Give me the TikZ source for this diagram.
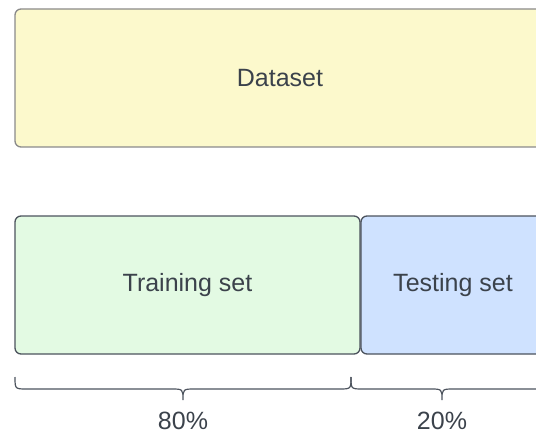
\documentclass[tikz,border=0pt]{standalone}
\usepackage{fontspec}
\setmainfont{Liberation Sans}
\definecolor{inkgray}{HTML}{3B424B}
\definecolor{dataline}{HTML}{8A8A8A}
\definecolor{datafill}{HTML}{FCF9CC}
\definecolor{boxline}{HTML}{4C535D}
\definecolor{trainfill}{HTML}{E3FAE3}
\definecolor{testfill}{HTML}{CFE2FF}
\tikzset{
  setbox/.style={draw, rounded corners=6pt, line width=1.3pt, inner sep=0pt,
    text=inkgray, font=\fontsize{25}{30}\selectfont},
  bracepath/.style={draw=boxline, line width=1.2pt},
  pct/.style={text=inkgray, inner sep=0pt, font=\fontsize{25}{30}\selectfont}
}
\begin{document}
\begin{tikzpicture}[x=1pt,y=1pt]
  \useasboundingbox (0,0) rectangle (536,432);
  \clip (0,0) rectangle (536,432);

  % full dataset
  \node[setbox, draw=dataline, fill=datafill, minimum width=530pt, minimum height=138pt]
    (data) at (280,354) {Dataset};

  % split into training and testing parts
  \node[setbox, draw=boxline, fill=trainfill, minimum width=345pt, minimum height=138pt]
    (train) at (187.5,147) {Training set};
  \node[setbox, draw=boxline, fill=testfill, minimum width=184pt, minimum height=138pt]
    (test) at (453,147) {Testing set};

  % braces under the parts
  \coordinate (b0) at (15,55);
  \coordinate (b1) at (351,55);
  \coordinate (b2) at (545,55);
  \path[bracepath] (b0) .. controls (15,43) .. (27,43) -- (171,43)
    .. controls (183,43) .. (183,32) .. controls (183,43) .. (195,43) -- (339,43)
    .. controls (351,43) .. (b1);
  \path[bracepath] (b1) .. controls (351,43) .. (363,43) -- (430,43)
    .. controls (442,43) .. (442,32) .. controls (442,43) .. (454,43) -- (533,43)
    .. controls (545,43) .. (b2);

  \node[pct, anchor=base] (p80) at (183,3) {80\%};
  \node[pct, anchor=base] (p20) at (442,3) {20\%};
\end{tikzpicture}
\end{document}
